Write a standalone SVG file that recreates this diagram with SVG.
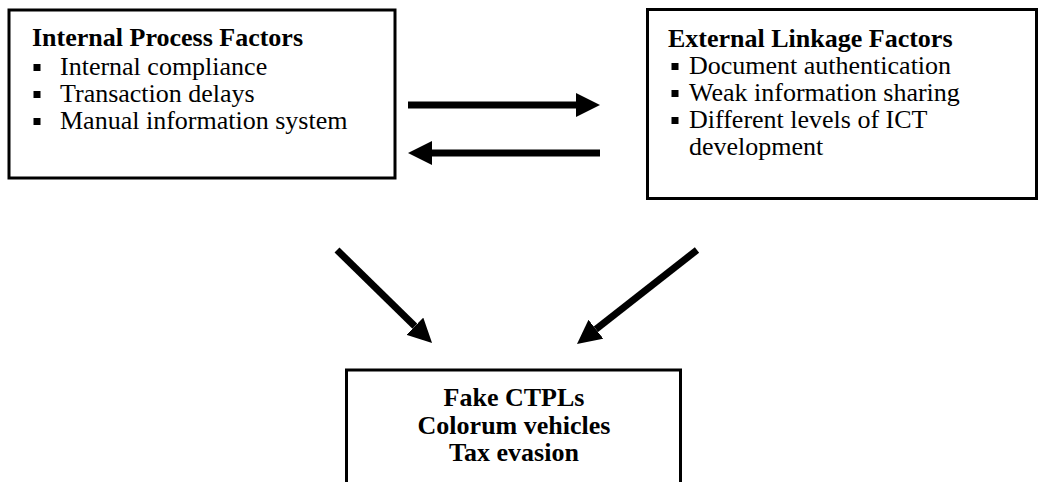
<svg xmlns="http://www.w3.org/2000/svg" width="1045" height="482" viewBox="0 0 1045 482">
<style>
.box{fill:#fff;stroke:#000;stroke-width:3}
.t{font-family:"Liberation Serif","Times New Roman",serif;font-size:26px;fill:#000}
.h{font-weight:bold}
.c{text-anchor:middle}
.b{fill:#000}
.ar{stroke:#000;stroke-width:7;fill:none;marker-end:url(#ah)}
</style>
<defs>
<marker id="ah" markerUnits="userSpaceOnUse" markerWidth="24" markerHeight="24" viewBox="0 0 24 24" refX="0" refY="12" orient="auto">
<path d="M0,0 L24,12 L0,24 Z" fill="#000"/>
</marker>
</defs>
<rect width="1045" height="482" fill="#fff"/>
<g id="internal">
<rect class="box" x="9" y="10" width="386" height="168"/>
<text class="t h" x="32" y="46">Internal Process Factors</text>
<rect class="b" x="33.5" y="64" width="7" height="7"/>
<text class="t" x="60" y="75">Internal compliance</text>
<rect class="b" x="33.5" y="91" width="7" height="7"/>
<text class="t" x="60" y="102">Transaction delays</text>
<rect class="b" x="33.5" y="118" width="7" height="7"/>
<text class="t" x="60" y="129">Manual information system</text>
</g>
<g id="external">
<rect class="box" x="647.5" y="9.5" width="389" height="189"/>
<text class="t h" x="668" y="47">External Linkage Factors</text>
<rect class="b" x="671.5" y="63" width="7" height="7"/>
<text class="t" x="689" y="74">Document authentication</text>
<rect class="b" x="671.5" y="90" width="7" height="7"/>
<text class="t" x="689" y="101">Weak information sharing</text>
<rect class="b" x="671.5" y="117" width="7" height="7"/>
<text class="t" x="689" y="128">Different levels of ICT</text>
<text class="t" x="689" y="155">development</text>
</g>
<g id="outcomes">
<rect class="box" x="346.5" y="370" width="334" height="130"/>
<text class="t h c" x="514" y="406">Fake CTPLs</text>
<text class="t h c" x="514" y="434">Colorum vehicles</text>
<text class="t h c" x="514" y="461">Tax evasion</text>
</g>
<g id="connectors">
<line class="ar" x1="408" y1="105" x2="576" y2="105"/>
<line class="ar" x1="600" y1="153" x2="432" y2="153"/>
<line class="ar" x1="337" y1="250" x2="414.9" y2="326.2"/>
<line class="ar" x1="697" y1="250" x2="595.9" y2="329.2"/>
</g>
</svg>
